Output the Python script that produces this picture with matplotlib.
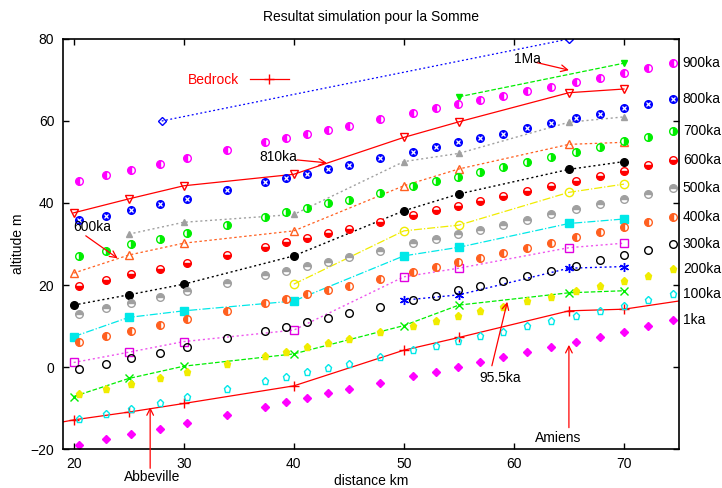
import matplotlib
matplotlib.use("Agg")
import matplotlib.pyplot as plt

plt.rcParams['font.family'] = ['Liberation Sans', 'DejaVu Sans']
plt.rcParams['font.size'] = 9.5

# abscisses des points calcules (km)
x_pts = [20.5, 22.9, 25.2, 27.8, 30.3, 33.9, 37.4, 39.3, 41.2, 43.1, 45.0, 47.8,
         50.8, 52.9, 54.9, 56.9, 59.0, 61.2, 63.4, 65.6, 67.8, 70.0, 72.2, 74.5]

# altitudes simulees par age
age_900 = [45.4, 46.8, 48.1, 49.5, 51.0, 52.9, 54.8, 55.8, 56.8, 57.8, 58.8, 60.4,
           61.9, 63.1, 64.1, 65.1, 66.1, 67.3, 68.4, 69.5, 70.6, 71.8, 72.9, 74.1]
age_800 = [35.8, 36.9, 38.2, 39.7, 41.0, 43.1, 45.0, 46.1, 47.1, 48.2, 49.2, 50.9,
           52.4, 53.6, 54.8, 55.9, 56.9, 58.2, 59.4, 60.7, 61.8, 63.1, 64.1, 65.4]
age_700 = [27.1, 28.4, 29.9, 31.2, 32.8, 34.6, 36.7, 37.7, 38.9, 39.9, 40.7, 42.5,
           44.2, 45.3, 46.4, 47.5, 48.8, 50.0, 51.2, 52.5, 53.7, 55.0, 56.2, 57.6]
age_600 = [19.8, 21.2, 22.6, 23.9, 25.4, 27.3, 29.3, 30.5, 31.5, 32.6, 33.6, 35.3,
           37.1, 38.3, 39.3, 40.5, 41.7, 42.9, 44.2, 45.4, 46.7, 47.9, 49.2, 50.5]
age_500 = [12.9, 14.3, 15.7, 17.1, 18.5, 20.4, 22.4, 23.5, 24.7, 25.7, 26.8, 28.3,
           30.2, 31.2, 32.4, 33.4, 34.6, 35.9, 37.2, 38.5, 39.8, 41.0, 42.3, 43.6]
age_400 = [6.2, 7.6, 8.9, 10.2, 11.7, 13.7, 15.5, 16.7, 17.7, 18.8, 19.8, 21.5,
           23.2, 24.3, 25.5, 26.7, 27.9, 29.1, 30.3, 31.6, 32.9, 34.1, 35.3, 36.7]
age_300 = [-0.6, 0.7, 2.1, 3.5, 5.0, 7.0, 8.9, 9.8, 10.9, 12.0, 13.1, 14.7,
           16.3, 17.4, 18.8, 19.8, 21.0, 22.2, 23.5, 24.7, 26.1, 27.3, 28.5, 29.9]
age_200 = [-6.7, -5.4, -4.1, -2.8, -1.3, 0.7, 2.7, 3.7, 4.8, 5.8, 6.9, 8.5,
           10.1, 11.3, 12.4, 13.7, 14.7, 16.1, 17.1, 18.6, 19.8, 21.0, 22.3, 23.8]
age_100 = [-12.8, -11.5, -10.2, -8.7, -7.4, -5.4, -3.4, -2.4, -1.3, -0.3, 0.7, 2.5,
           4.1, 5.2, 6.4, 7.6, 8.6, 10.0, 11.3, 12.5, 13.7, 14.9, 16.3, 17.7]
age_1 = [-19.0, -17.6, -16.4, -15.0, -13.7, -11.7, -9.8, -8.6, -7.5, -6.4, -5.4, -3.8,
         -2.1, -1.1, 0.1, 1.1, 2.4, 3.6, 5.0, 6.2, 7.4, 8.6, 10.0, 11.5]

# terrasses observees
x_obs = [20, 25, 30, 40, 50, 55, 65, 70]
t_810 = [37.6, 41.0, 44.2, 47.0, 56.0, 59.8, 66.9, 67.8]
t_gris = [None, 32.4, 35.3, 37.2, 50.1, 52.1, 59.7, 61.0]
t_600 = [22.9, 27.3, 30.2, 33.2, 44.2, 48.3, 54.3, 54.8]
t_noir = [15.1, 17.6, 20.2, 27.1, 38.1, 42.2, 48.2, 50.1]
t_jaune = [None, None, None, 20.2, 33.2, 34.6, 42.6, 44.6]
t_cyan = [7.4, 12.1, 13.7, 16.1, 27.1, 29.2, 35.0, 36.1]
t_violet = [1.1, 3.6, 6.2, 9.0, 22.0, 24.1, 29.1, 30.2]
t_bleu = [None, None, None, None, 16.3, 17.6, 24.1, 24.5]
t_95 = [-7.2, -2.8, 0.2, 3.2, 10.1, 15.1, 18.1, 18.6]
x_1ma = [55, 70]
t_1ma = [65.9, 74.1]
x_haut = [28, 65]
t_haut = [60.0, 80.0]

x_bed = [19, 20, 25, 30, 40, 50, 55, 65, 70, 75]
bedrock = [-13.4, -12.9, -11.0, -8.9, -4.6, 4.1, 7.2, 13.7, 14.1, 16.1]


def obs(vals):
    xs = [x for x, v in zip(x_obs, vals) if v is not None]
    ys = [v for v in vals if v is not None]
    return xs, ys


fig = plt.figure(figsize=(7.22, 4.88), dpi=100)
ax = fig.add_axes([0.0868, 0.0799, 0.8536, 0.8402])

mag = '#ff00ff'
vert = '#00ee00'
orange = '#ff6020'
gris = '#a0a0a0'
jaune = '#f0ec00'
cyan = '#00e8e8'
violet = '#ee55ee'

# lignes des terrasses
ax.plot(x_haut, t_haut, color='blue', lw=0.9, ls=(0, (1.5, 2)), marker='D', ms=4, mfc='none', mew=1)
ax.plot(x_1ma, t_1ma, '--', color=vert, lw=0.9, marker='v', ms=5)
ax.plot(x_obs, t_810, '-', color='red', lw=0.9, marker='v', ms=6, mfc='none', mew=1)
ax.plot(*obs(t_gris), color=gris, lw=1, ls=(0, (1.5, 2)), marker='^', ms=5)
ax.plot(x_obs, t_600, color=orange, lw=0.9, ls=(0, (2, 2)), marker='^', ms=6, mfc='none', mew=1)
ax.plot(x_obs, t_noir, color='black', lw=1, ls=(0, (1.5, 2)), marker='o', ms=5.5)
ax.plot(*obs(t_jaune), '-.', color=jaune, lw=0.9, marker='o', ms=6, mfc='none', mew=1)
ax.plot(x_obs, t_cyan, '-.', color=cyan, lw=0.9, marker='s', ms=6)
ax.plot(x_obs, t_violet, color=violet, lw=1, ls=(0, (1.5, 2)), marker='s', ms=6, mfc='none',
        mec='#e000e0', mew=1)
ax.plot(*obs(t_bleu), color='blue', lw=1, ls=(0, (1.5, 2)), marker=(6, 2, 0), ms=6.5, mew=1)
ax.plot(x_obs, t_95, '--', color=vert, lw=0.9, marker='x', ms=5.5, mew=1)
bed, = ax.plot(x_bed, bedrock, '-', color='red', lw=0.9, marker='+', ms=6.5, mew=1,
               markevery=list(range(1, 9)), label='Bedrock')

# points simules
series = [
    (age_900, mag, 'o', 'left', '900ka'),
    (age_800, 'blue', 'o', 'full', '800ka'),
    (age_700, vert, 'o', 'right', '700ka'),
    (age_600, 'red', 'o', 'bottom', '600ka'),
    (age_500, gris, 'o', 'top', '500ka'),
    (age_400, orange, 'o', 'left', '400ka'),
    (age_300, 'black', 'o', 'none', '300ka'),
    (age_200, jaune, 'p', 'full', '200ka'),
    (age_100, cyan, 'p', 'none', '100ka'),
    (age_1, mag, 'D', 'full', '1ka'),
]
for vals, c, m, fs, lab in series:
    size = {'D': 3.8, 'p': 5.2}.get(m, 5.5)
    ax.plot(x_pts, vals, ls='none', marker=m, ms=size, color=c, fillstyle=fs,
            markerfacecoloralt='white', mew=1, clip_on=False)
    ax.text(75.35, vals[-1], lab, ha='left', va='center', fontsize=10)
ax.plot(x_pts, age_800, ls='none', marker='x', ms=2.5, color='white', mew=0.9, clip_on=False)

# annotations
fleche = dict(arrowstyle='->', color='red', lw=0.9, mutation_scale=12, shrinkA=0, shrinkB=0)
ax.annotate('', xy=(65.0, 72.4), xytext=(62.0, 74.3), arrowprops=fleche)
ax.text(61.2, 75.0, '1Ma', ha='center', va='center', fontsize=10)
ax.annotate('', xy=(43.0, 49.8), xytext=(40.3, 50.5), arrowprops=fleche)
ax.text(38.6, 51.1, '810ka', ha='center', va='center', fontsize=10)
ax.annotate('', xy=(24.0, 26.5), xytext=(21.1, 32.0), arrowprops=fleche)
ax.text(21.7, 34.1, '600ka', ha='center', va='center', fontsize=10)
ax.annotate('', xy=(59.4, 15.9), xytext=(58.0, 0.3), arrowprops=fleche)
ax.text(58.8, -2.8, '95.5ka', ha='center', va='center', fontsize=10)
ax.annotate('', xy=(65.0, 5.4), xytext=(65.0, -14.8), arrowprops=fleche)
ax.text(64.0, -17.4, 'Amiens', ha='center', va='center', fontsize=10)
ax.annotate('', xy=(26.95, -9.8), xytext=(26.95, -24.7), arrowprops=fleche,
            annotation_clip=False)
ax.text(27.1, -26.8, 'Abbeville', ha='center', va='center', fontsize=10, clip_on=False)

leg = ax.legend(handles=[bed], loc='center right', bbox_to_anchor=(0.376, 0.9),
                frameon=False, markerfirst=False, labelcolor='red', handlelength=2.8,
                fontsize=10, borderaxespad=0)

ax.set_xlim(19, 75)
ax.set_ylim(-20, 80)
ax.set_xticks([20, 30, 40, 50, 60, 70])
ax.set_yticks([-20, 0, 20, 40, 60, 80])
ax.tick_params(direction='in', length=4, width=1, top=True, right=True, labelsize=10, pad=6)
for s in ax.spines.values():
    s.set_linewidth(1.2)

ax.set_title('Resultat simulation pour la Somme', fontsize=10, pad=13)
ax.set_xlabel('distance km', fontsize=10, labelpad=2)
ax.set_ylabel('altitude m', fontsize=10, labelpad=4)

fig.savefig('out.png', dpi=100)
